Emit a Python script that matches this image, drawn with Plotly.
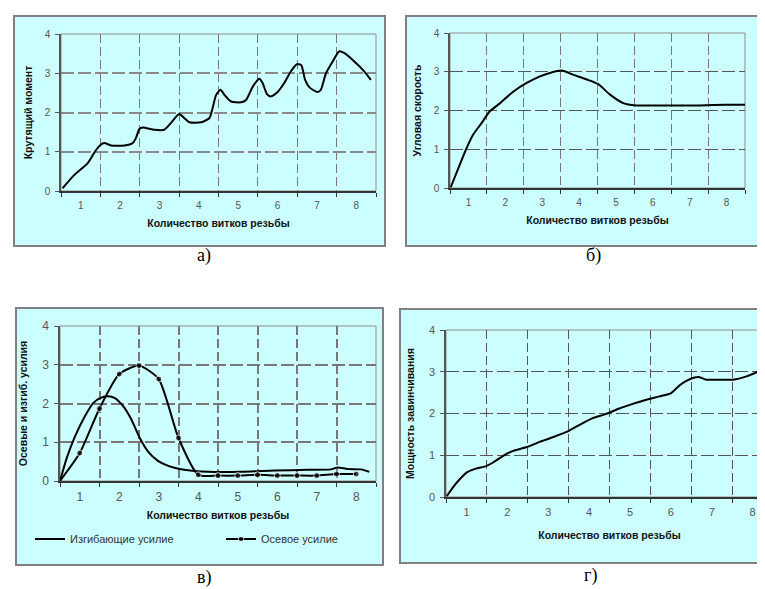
import plotly.graph_objects as go

W, H = 765, 589

# ---------------- data ----------------
turn_labels = ["1", "2", "3", "4", "5", "6", "7", "8"]
turn_pos = [1, 2, 3, 4, 5, 6, 7, 8]
turn_bounds = [0.5, 1.5, 2.5, 3.5, 4.5, 5.5, 6.5, 7.5, 8.5]

# а) Крутящий момент
torque_x = [0.54, 0.84, 1.18, 1.36, 1.5, 1.6, 1.77, 2.11, 2.32, 2.4, 2.49, 2.57, 2.87, 3.12,
            3.29, 3.5, 3.63, 3.76, 4.06, 4.27, 4.35, 4.44, 4.55, 4.65, 4.82, 5.07, 5.2, 5.37,
            5.54, 5.62, 5.73, 5.83, 6.0, 6.17, 6.34, 6.49, 6.6, 6.7, 6.81, 7.02, 7.1, 7.23,
            7.4, 7.57, 7.7, 7.95, 8.2, 8.37]
torque_y = [0.07, 0.41, 0.71, 1.0, 1.17, 1.22, 1.16, 1.16, 1.22, 1.34, 1.58, 1.62, 1.56, 1.56,
            1.73, 1.96, 1.86, 1.75, 1.75, 1.86, 2.11, 2.45, 2.58, 2.45, 2.28, 2.26, 2.32, 2.66,
            2.86, 2.75, 2.47, 2.41, 2.52, 2.75, 3.05, 3.23, 3.21, 2.83, 2.64, 2.52, 2.58, 3.0,
            3.3, 3.56, 3.51, 3.3, 3.05, 2.83]

# б) Угловая скорость
speed_x = [0.52, 0.73, 0.95, 1.13, 1.36, 1.58, 1.86, 2.22, 2.58, 2.94, 3.21, 3.53, 3.85, 4.21,
           4.52, 4.84, 5.2, 5.54, 6.02, 6.56, 7.28, 8.0, 8.5]
speed_y = [0.02, 0.52, 1.03, 1.38, 1.68, 1.98, 2.19, 2.49, 2.71, 2.88, 2.97, 3.03, 2.92, 2.8,
           2.68, 2.41, 2.19, 2.13, 2.13, 2.13, 2.13, 2.15, 2.15]

# в) Изгибающие усилие / Осевое усилие
bend_x = [0.5, 0.67, 0.88, 1.13, 1.34, 1.51, 1.72, 1.89, 2.1, 2.31, 2.52, 2.73, 2.98, 3.24,
          3.53, 3.91, 4.25, 5.09, 5.93, 6.77, 7.36, 7.53, 7.78, 8.12, 8.33]
bend_y = [0.0, 0.59, 1.15, 1.67, 2.01, 2.14, 2.19, 2.14, 1.93, 1.58, 1.11, 0.76, 0.52, 0.39,
          0.31, 0.26, 0.24, 0.24, 0.27, 0.29, 0.3, 0.35, 0.31, 0.3, 0.24]
axial_x = [0.5, 1.0, 1.5, 2.0, 2.5, 3.0, 3.5, 4.0, 4.5, 5.0, 5.5, 6.0, 6.5, 7.0, 7.5, 8.0]
axial_y = [0.0, 0.72, 1.87, 2.76, 2.98, 2.63, 1.11, 0.16, 0.14, 0.14, 0.16, 0.14, 0.14, 0.14,
           0.18, 0.18]

# г) Мощность завинчивания
power_x = [0.52, 0.66, 0.83, 1.03, 1.23, 1.48, 1.64, 1.89, 2.13, 2.46, 2.79, 3.11, 3.48, 3.77,
           4.09, 4.42, 4.74, 5.07, 5.4, 5.72, 6.01, 6.21, 6.38, 6.58, 6.7, 6.87, 7.19, 7.52,
           7.85, 8.17, 8.42]
power_y = [0.02, 0.22, 0.42, 0.6, 0.68, 0.74, 0.82, 0.98, 1.1, 1.19, 1.32, 1.43, 1.57, 1.73,
           1.89, 1.99, 2.12, 2.23, 2.33, 2.41, 2.49, 2.67, 2.78, 2.86, 2.87, 2.81, 2.81, 2.81,
           2.89, 3.02, 3.14]

x_title = "Количество витков резьбы"
y_titles = ["Крутящий момент", "Угловая скорость", "Осевые и изгиб. усилия", "Мощность завинчивания"]
captions = ["а)", "б)", "в)", "г)"]
legend_names = ["Изгибающие усилие", "Осевое усилие"]

# ---------------- layout helpers (pixel geometry) ----------------
def px(x):
    return x / W

def py(y):
    return 1 - y / H

# plot areas (left, right, top, bottom) in pixels
areas = [(53, 368, 26, 183), (442, 737, 25, 180), (52, 368, 318, 473), (438, 765, 322, 489)]
# outer boxes
boxes = [(6, 377, 8, 238), (398, 768, 8, 238), (8, 375, 300, 557), (392, 768, 301, 555)]
cap_pos = [(196, 247), (585, 247), (197, 569), (582, 567)]
tick_sizes = [10, 10, 12, 11]
hgrid = [dict(color="#8a8a8a", width=2), dict(color="#555555", width=1),
         dict(color="#777777", width=1.5), dict(color="#555555", width=1)]
vgrid = [dict(color="#777777", width=1), dict(color="#777777", width=1),
         dict(color="#777777", width=1.5), dict(color="#555555", width=1)]
ystand = [10, 10, 12, 12]
xstand = [10, 10, 8, 14]

fig = go.Figure()

line_style = dict(color="black", width=2, shape="spline", smoothing=0.6)

fig.add_trace(go.Scatter(x=torque_x, y=torque_y, mode="lines", line=line_style,
                         xaxis="x", yaxis="y", showlegend=False))
fig.add_trace(go.Scatter(x=speed_x, y=speed_y, mode="lines", line=line_style,
                         xaxis="x2", yaxis="y2", showlegend=False))
fig.add_trace(go.Scatter(x=bend_x, y=bend_y, mode="lines", line=line_style,
                         xaxis="x3", yaxis="y3", name=legend_names[0], showlegend=True))
fig.add_trace(go.Scatter(x=axial_x, y=axial_y, mode="lines+markers", line=line_style,
                         marker=dict(color="black", size=[0] + [6] * (len(axial_x) - 1)),
                         xaxis="x3", yaxis="y3", name=legend_names[1], showlegend=True))
fig.add_trace(go.Scatter(x=power_x, y=power_y, mode="lines", line=line_style,
                         xaxis="x4", yaxis="y4", showlegend=False))

title_font = dict(family="Liberation Sans, Arial", size=10.5, color="#111111", weight="bold")

layout = dict(
    width=W, height=H,
    margin=dict(l=0, r=0, t=0, b=0),
    paper_bgcolor="white", plot_bgcolor="rgba(0,0,0,0)",
    template="none",
    font=dict(family="Liberation Sans, Arial", size=10, color="#444444"),
    shapes=[], annotations=[],
)

for i in range(4):
    sfx = "" if i == 0 else str(i + 1)
    l, r, t, b = areas[i]
    tf = dict(family="Liberation Sans, Arial", size=tick_sizes[i], color="#555555")
    layout["xaxis" + sfx] = dict(
        domain=[px(l), min(px(r), 1.0)], anchor="y" + sfx,
        range=[0.5, 8.5], tickmode="array", tickvals=turn_pos, ticktext=turn_labels,
        ticks="", showgrid=False, zeroline=False, automargin=False,
        showline=True, linecolor="#333333", linewidth=2,
        tickfont=tf, ticklabelstandoff=4,
        minor=dict(tickmode="array", tickvals=turn_bounds, ticks="outside", ticklen=4,
                   tickcolor="#333333", tickwidth=1, showgrid=True,
                   gridcolor=vgrid[i]["color"], gridwidth=vgrid[i]["width"],
                   griddash="9px,4px"),
        title=dict(text=x_title, font=title_font, standoff=xstand[i]),
    )
    layout["yaxis" + sfx] = dict(
        domain=[py(b), py(t)], anchor="x" + sfx,
        range=[0, 4], tickmode="array", tickvals=[0, 1, 2, 3, 4],
        ticks="outside", ticklen=4, tickcolor="#555555",
        showgrid=True, gridcolor=hgrid[i]["color"], gridwidth=hgrid[i]["width"],
        griddash="13px,4px", zeroline=False, automargin=False,
        showline=True, linecolor="#555555", linewidth=1.5,
        tickfont=tf, ticklabelstandoff=3,
        title=dict(text=y_titles[i], font=title_font, standoff=ystand[i]),
    )
    # outer box
    bl, br, bt, bb = boxes[i]
    layout["shapes"].append(dict(type="rect", xref="paper", yref="paper", layer="below",
                                 x0=px(bl), x1=px(br), y0=py(bb), y1=py(bt),
                                 fillcolor="#CCFFFF", line=dict(color="#808080", width=2)))
    # plot area border (top / right)
    layout["shapes"].append(dict(type="rect", xref="x" + sfx + " domain", yref="y" + sfx + " domain",
                                 x0=0, x1=1, y0=0, y1=1, layer="below",
                                 line=dict(color="#8c8c8c", width=1)))
    cx, cy = cap_pos[i]
    layout["annotations"].append(dict(text=captions[i], xref="paper", yref="paper",
                                      x=px(cx), y=py(cy), showarrow=False,
                                      xanchor="center", yanchor="middle",
                                      font=dict(family="Liberation Serif, Times New Roman",
                                                size=18, color="black")))

layout["legend"] = dict(orientation="h", x=px(22), y=py(531), xanchor="left", yanchor="middle",
                        bgcolor="rgba(0,0,0,0)", entrywidth=146, entrywidthmode="pixels",
                        font=dict(family="Liberation Sans, Arial", size=11, color="#333333"))

fig.update_layout(**layout)
fig.write_html("out.html")
